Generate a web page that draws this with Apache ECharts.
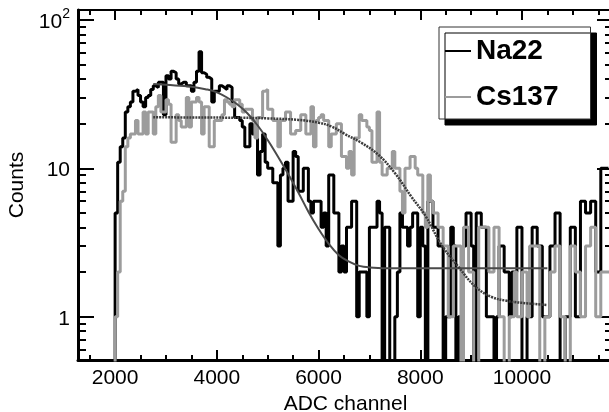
<!DOCTYPE html>
<html><head><meta charset="utf-8">
<script src="https://cdn.jsdelivr.net/npm/echarts@6/dist/echarts.min.js"></script>
<style>html,body{margin:0;padding:0;background:#fff}#c{width:609px;height:412px}</style>
</head><body><div id="c"></div>
<script>
// ---- data ----
const binStart = 1250;
const binWidth = 50;
const leadingZeros = 15;
const na22Counts = [
  5,11,14,16,24,26,28,33,
  34,31,28,26,30,31,34,36,35,38,
  38,23,42,40,45,44,40,37,38,38,
  36,36,33,38,45,61,44,43,41,40,
  28,33,33,36,35,34,36,35,28,22,
  22,21,19,14,14,20,17,17,9,13,
  17,11,10,10,8,8,3,9,10,11,
  6,6,13,12,7,7,10,10,6,5,
  6,6,6,4,5,3,9,9,5,5,
  2,3,2,4,4,6,6,1,2,2,
  2,1,4,4,4,6,5,0,4,4,
  0,0,1,2,5,4,4,3,4,5,
  5,1,4,3,0,6,6,4,4,3,
  3,0,1,1,4,3,0,1,0,3,
  5,5,3,0,5,5,4,4,1,1,
  1,0,1,3,3,2,2,1,2,2,
  4,4,0,0,1,1,4,4,3,3,
  1,1,1,3,3,5,5,0,0,1,
  1,4,4,1,1,6,6,5,5,6,
  6,2,2,10,10,10
];
const na22Lead = [0,0,0,0,0,0,0,0,0,0,0,0,0,0,0,0,0];
const cs137Counts = [
  1,2,6,7,14,16,17,17,21,17,
  17,24,17,24,24,17,26,31,24,24,
  29,27,15,15,23,21,19,19,30,19,
  28,28,30,28,17,26,26,14,14,21,
  21,21,23,29,28,27,26,29,29,27,
  24,25,25,25,21,16,22,22,33,34,
  25,25,21,21,14,21,21,24,24,17,
  17,18,18,23,23,17,17,26,14,21,
  22,23,21,21,14,17,17,20,20,12,
  12,10,13,9,16,16,23,21,21,19,
  18,11,11,24,11,9,9,10,10,13,
  10,10,7,5,10,10,12,12,10,9,
  9,5,4,9,6,5,5,4,4,3,
  3,1,1,3,3,3,0,4,4,2,
  2,0,0,4,4,4,4,2,2,4,
  4,1,1,0,0,1,1,2,1,1,
  2,2,1,3,3,3,3,0,0,1,
  1,2,2,3,3,1,1,0,0,3,
  3,2,2,1,1,3,3,4,4,1,
  1,2,2,2,2,2
];
const cs137Lead = [0,0,0,0,0,0,0,0,0,0,0,0,0,0,0];
const na22FitX = [2750,3000,3500,3800,4000,4200,4400,4600,4800,5000,5200,5400,5600,5800,6000,6200,6400,6600,6800,7000,7500,8000,9000,10500];
const na22FitY = [37,36.5,35.5,34,32.5,30,27,23.5,19.5,15.5,12,9.2,6.9,5.1,3.9,3.1,2.6,2.35,2.2,2.15,2.12,2.12,2.12,2.12];
const cs137FitX = [2750,3500,4500,5000,5600,6000,6260,6520,6850,7180,7500,7830,8100,8420,8750,9080,9400,9700,10000,10500];
const cs137FitY = [22.1,22.0,21.9,21.7,21.2,20.3,19.1,17,14.8,12.3,9.3,6.4,4.8,3.04,2.17,1.6,1.36,1.28,1.24,1.2];
const xMajorTicks = [2000,4000,6000,8000,10000];
const xMinorTicks = [1500,2500,3000,3500,4500,5000,5500,6500,7000,7500,8500,9000,9500,10500,11000,11500];
const yMajorTicks = [1,10,100];
const yMinorTicks = [0.6,0.7,0.8,0.9,2,3,4,5,6,7,8,9,20,30,40,50,60,70,80,90];
const legendNames = ['Na22','Cs137'];
const xTitle = 'ADC channel';
const yTitle = 'Counts';

// ---- build ----
const X_MIN = 1270, X_MAX = 11790, Y_MIN = 0.511, Y_MAX = 116.6;
const ZERO_FLOOR = 0.1; // empty bins drawn to below the axis floor (log scale)
function histData(lead, counts) {
  const all = lead.concat(counts);
  const out = all.map((v, i) => [binStart + i * binWidth, v > 0 ? v : ZERO_FLOOR]);
  out.push([binStart + all.length * binWidth, out[out.length - 1][1]]);
  return out;
}
function zip(xs, ys) { return xs.map((x, i) => [x, ys[i]]); }
const FONT = 'Liberation Sans, Arial, Helvetica, sans-serif';
const tickStyle = { color: '#000', width: 2 };

function xAx(pos, major, extra) {
  return Object.assign({
    type: 'value', min: X_MIN, max: X_MAX, position: pos,
    axisLine: { show: major, lineStyle: { color: '#000', width: pos === 'bottom' ? 3 : 2 } },
    axisTick: { show: true, inside: true, length: major ? 10 : 5, lineStyle: tickStyle,
      customValues: major ? xMajorTicks : xMinorTicks },
    axisLabel: { show: false },
    splitLine: { show: false }
  }, extra || {});
}
function yAx(pos, major, extra) {
  return Object.assign({
    type: 'log', logBase: 10, min: Y_MIN, max: Y_MAX, position: pos,
    axisLine: { show: major, lineStyle: { color: '#000', width: pos === 'left' ? 3 : 2 } },
    axisTick: { show: true, inside: true, length: major ? 16 : 8, lineStyle: tickStyle,
      customValues: major ? yMajorTicks : yMinorTicks },
    axisLabel: { show: false },
    splitLine: { show: false }, minorTick: { show: false }
  }, extra || {});
}

const option = {
  animation: false,
  backgroundColor: '#fff',
  grid: { left: 78, top: 10, right: -4, bottom: 52, containLabel: false, outerBoundsMode: 'none' },
  xAxis: [
    xAx('bottom', true, {
      axisLabel: { show: true, customValues: xMajorTicks, fontSize: 21, color: '#000', fontFamily: FONT, margin: 8,
        formatter: v => String(Math.round(v)) },
      name: xTitle, nameLocation: 'middle', nameGap: 28,
      nameTextStyle: { fontSize: 21, color: '#000', fontFamily: FONT }
    }),
    xAx('bottom', false), xAx('top', true), xAx('top', false)
  ],
  yAxis: [
    yAx('left', true, {
      axisLabel: { show: true, customValues: yMajorTicks, color: '#000', fontFamily: FONT, fontSize: 21, margin: 8,
        formatter: v => v > 50 ? '{n|10}{s|2}' : '{n|' + Math.round(v) + '}',
        rich: { n: { fontSize: 21, fontFamily: FONT, color: '#000', padding: [4, 0, 0, 0] },
                s: { fontSize: 14, fontFamily: FONT, color: '#000', verticalAlign: 'top', padding: [0, 0, 8, 0] } } },
      name: yTitle, nameLocation: 'middle', nameGap: 50, nameRotate: 90,
      nameTextStyle: { fontSize: 21, color: '#000', fontFamily: FONT }
    }),
    yAx('left', false), yAx('right', true), yAx('right', false)
  ],
  legend: {
    data: legendNames, left: 439, top: 27, orient: 'vertical',
    padding: [10, 32, 8, 6], itemGap: 18, itemWidth: 26, itemHeight: 2, icon: 'rect',
    backgroundColor: '#fff', borderColor: '#333', borderWidth: 1,
    shadowColor: '#000', shadowBlur: 0, shadowOffsetX: 6, shadowOffsetY: 6,
    textStyle: { fontSize: 28, fontWeight: 'bold', color: '#000', fontFamily: FONT, lineHeight: 28 }
  },
  series: [
    { name: 'Na22', type: 'line', step: 'end', symbol: 'none', clip: true,
      data: histData(na22Lead.slice(0, leadingZeros), na22Counts),
      lineStyle: { color: '#000', width: 3 }, itemStyle: { color: '#000' } },
    { name: 'Cs137', type: 'line', step: 'end', symbol: 'none', clip: true,
      data: histData(cs137Lead.slice(0, leadingZeros), cs137Counts),
      lineStyle: { color: '#9c9c9c', width: 3 }, itemStyle: { color: '#9c9c9c' } },
    { name: 'Na22 fit', type: 'line', smooth: 0.4, symbol: 'none', clip: true,
      data: zip(na22FitX, na22FitY), lineStyle: { color: '#4a4a4a', width: 2 } },
    { name: 'Cs137 fit', type: 'line', smooth: 0.4, symbol: 'none', clip: true,
      data: zip(cs137FitX, cs137FitY), lineStyle: { color: '#3c3c3c', width: 2.5, type: [2, 1] } }
  ]
};
const chart = echarts.init(document.getElementById('c'), null, { renderer: 'canvas' });
chart.setOption(option);
</script></body></html>
